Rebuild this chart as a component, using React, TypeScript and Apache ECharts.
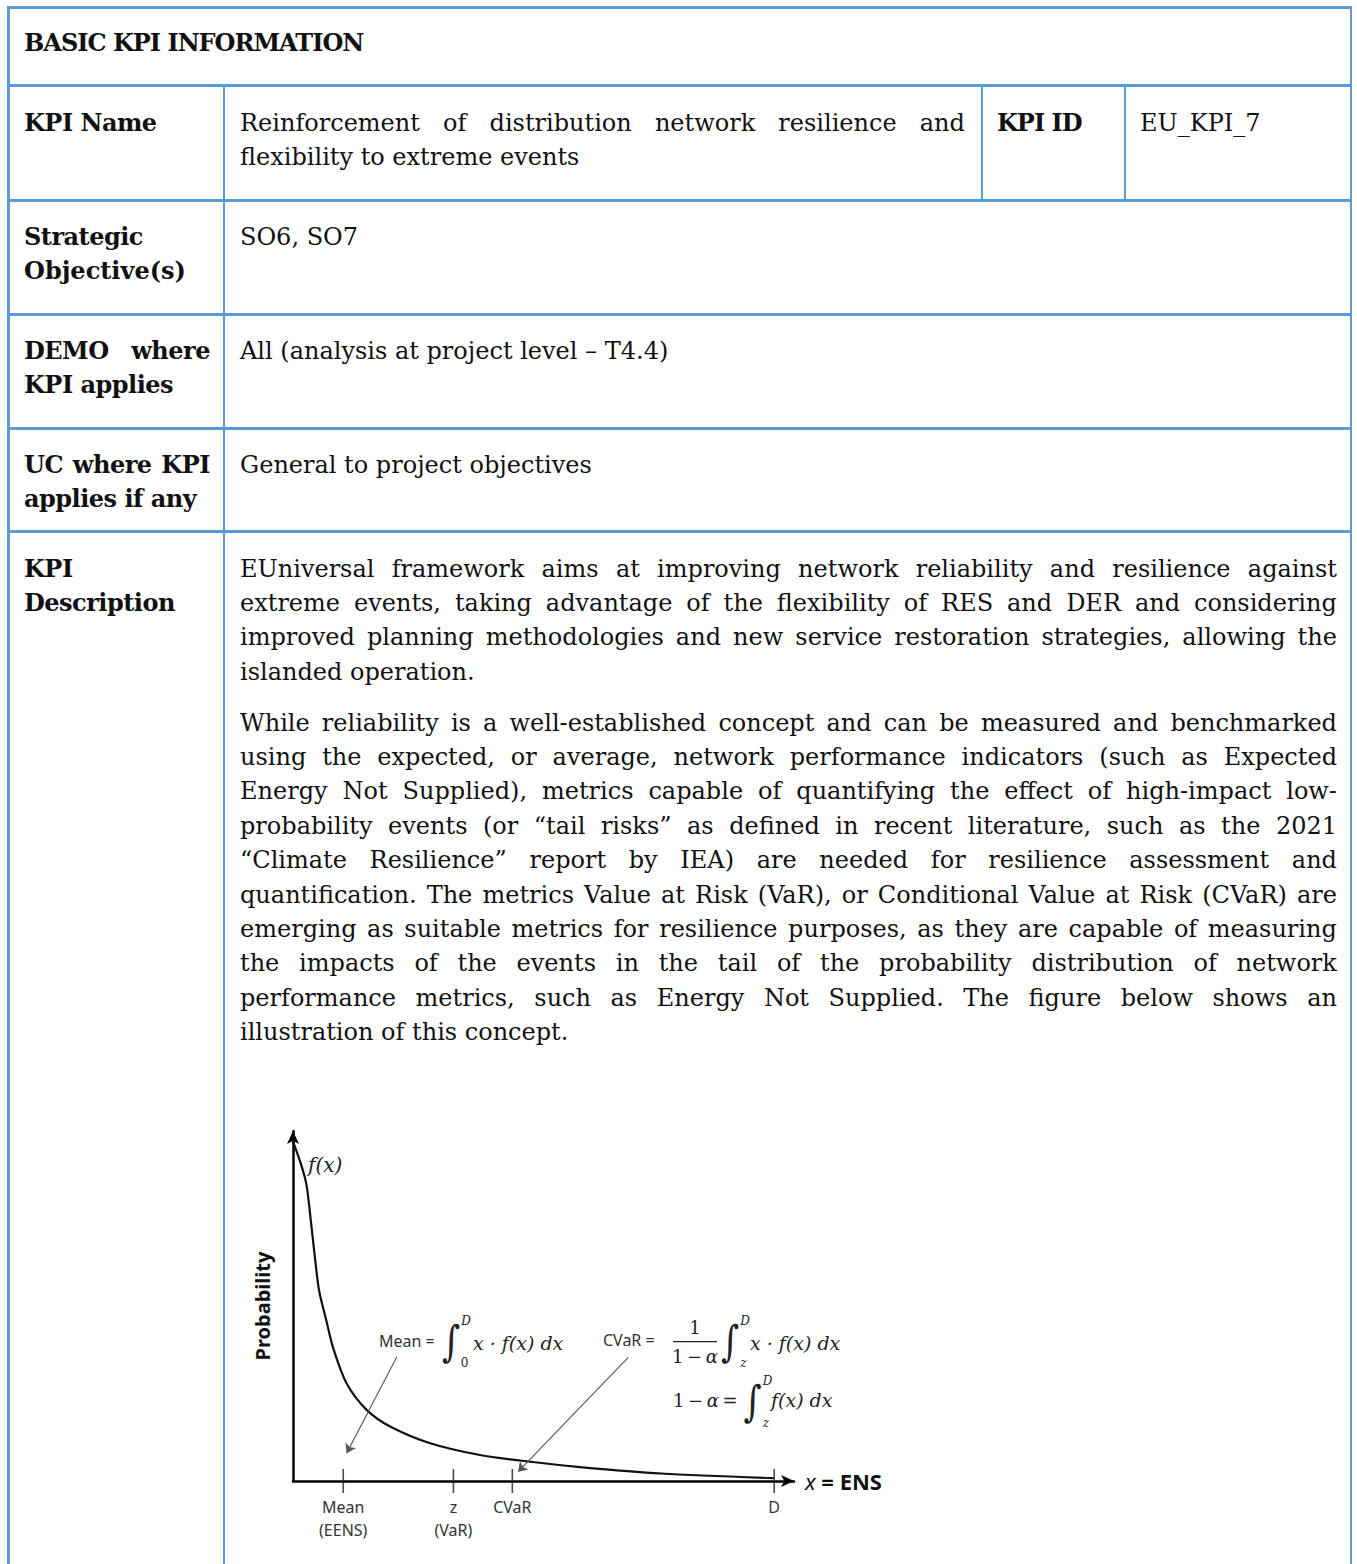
import React, { useEffect, useRef } from "react";
import * as echarts from "echarts";

// ---------- Data ----------
const curveX = [0, 1.7, 2.8, 3.7, 4.6, 5.4, 7.0, 8.35, 11.1, 15.3, 20.1, 28.4, 38.7, 49.1, 59.4, 76.2, 99.5];
const curveY = [95.3, 88.8, 83.1, 73.0, 62.0, 53.5, 44.5, 37.2, 27.4, 19.9, 15.3, 10.6, 7.3, 5.4, 3.9, 2.1, 0.8];
const tickValues = [10.4, 33.2, 45.4, 99.6];
const tickLabels = ["Mean\n(EENS)", "z\n(VaR)", "CVaR", "D"];
const meanArrow = [[21.5, 34.9], [11.1, 7.8]];
const cvarArrow = [[69.4, 34.7], [46.6, 2.6]];

const headerTitle = "BASIC KPI INFORMATION";
const kpiNameLines = ["Reinforcement of distribution network resilience and", "flexibility to extreme events"];
const kpiId = "EU_KPI_7";
const strategic = "SO6, SO7";
const demo = "All (analysis at project level – T4.4)";
const ucText = "General to project objectives";
const para1 = [
  "EUniversal framework aims at improving network reliability and resilience against",
  "extreme events, taking advantage of the flexibility of RES and DER and considering",
  "improved planning methodologies and new service restoration strategies, allowing the",
  "islanded operation.",
];
const para2 = [
  "While reliability is a well-established concept and can be measured and benchmarked",
  "using the expected, or average, network performance indicators (such as Expected",
  "Energy Not Supplied), metrics capable of quantifying the effect of high-impact low-",
  "probability events (or “tail risks” as defined in recent literature, such as the 2021",
  "“Climate Resilience” report by IEA) are needed for resilience assessment and",
  "quantification. The metrics Value at Risk (VaR), or Conditional Value at Risk (CVaR) are",
  "emerging as suitable metrics for resilience purposes, as they are capable of measuring",
  "the impacts of the events in the tail of the probability distribution of network",
  "performance metrics, such as Energy Not Supplied. The figure below shows an",
  "illustration of this concept.",
];

// ---------- Layout constants ----------
const BORDER = "#5B9BD5";
const BW = 2.7;
const SERIF = "'DejaVu Serif', serif";
const FS = 24;
const LH = 34.4;
const BASE_OFF = 25.5;

const hLines = [
  { y: 6, x1: 7, x2: 1352 },
  { y: 84, x1: 7, x2: 1352 },
  { y: 199, x1: 7, x2: 1352 },
  { y: 313, x1: 7, x2: 1352 },
  { y: 427, x1: 7, x2: 1352 },
  { y: 530, x1: 7, x2: 1352 },
];
const vLines = [
  { x: 7, y1: 6, y2: 1564 },
  { x: 1349.5, y1: 6, y2: 1564 },
  { x: 222.5, y1: 84, y2: 1564 },
  { x: 980.5, y1: 84, y2: 201 },
  { x: 1123.5, y1: 84, y2: 201 },
];

const textBase: React.CSSProperties = {
  position: "absolute",
  fontFamily: SERIF,
  fontSize: FS,
  lineHeight: LH + "px",
  whiteSpace: "nowrap",
  color: "#111",
};

function Txt({ x, baseline, text, bold, ls }: { x: number; baseline: number; text: string; bold?: boolean; ls?: number }) {
  return (
    <div
      style={{
        ...textBase,
        left: x,
        top: baseline - BASE_OFF,
        fontWeight: bold ? "bold" : "normal",
        letterSpacing: (ls !== undefined ? ls : bold ? -0.5 : 0) + "px",
      }}
    >
      {text}
    </div>
  );
}

function JLine({ x, baseline, width, text, bold }: { x: number; baseline: number; width: number; text: string; bold?: boolean }) {
  const words = text.split(" ");
  return (
    <div
      style={{
        ...textBase,
        left: x,
        top: baseline - BASE_OFF,
        width,
        display: "flex",
        justifyContent: "space-between",
        fontWeight: bold ? "bold" : "normal",
        letterSpacing: bold ? "-0.5px" : "0px",
      }}
    >
      {words.map((w, i) => (
        <span key={i}>{w}</span>
      ))}
    </div>
  );
}

function Para({ x, baseline, width, lines }: { x: number; baseline: number; width: number; lines: string[] }) {
  return (
    <>
      {lines.map((l, i) =>
        i < lines.length - 1 ? (
          <JLine key={i} x={x} baseline={baseline + i * LH} width={width} text={l} />
        ) : (
          <Txt key={i} x={x} baseline={baseline + i * LH} text={l} />
        )
      )}
    </>
  );
}

function Chart() {
  const ref = useRef<HTMLDivElement>(null);
  useEffect(() => {
    if (!ref.current) return;
    const chart = echarts.init(ref.current, undefined, { renderer: "svg" });
    const mathFont = "'DejaVu Serif', serif";
    const sans = "'Noto Sans', sans-serif";
    const INK = "#222";
    const italic = (x: number, y: number, text: string, size: number, align = "left", upright = false) => ({
      type: "text",
      x,
      y,
      silent: true,
      style: {
        text,
        fontFamily: mathFont,
        fontStyle: upright ? "normal" : "italic",
        fontSize: size,
        lineHeight: size + 1,
        fill: INK,
        align,
        verticalAlign: "middle",
      },
    });
    const sansText = (x: number, y: number, text: string) => ({
      type: "text",
      x,
      y,
      silent: true,
      style: { text, fontFamily: sans, fontSize: 16, fill: "#333", align: "left", verticalAlign: "middle" },
    });
    const integral = (x: number, y: number) => ({
      type: "text",
      x,
      y,
      scaleY: 1.22,
      silent: true,
      style: {
        text: "∫",
        fontFamily: mathFont,
        fontSize: 35,
        lineHeight: 24,
        fill: INK,
        align: "center",
        verticalAlign: "middle",
      },
    });
    const mixed = (x: number, y: number, text: string, align = "left") => ({
      type: "text",
      x,
      y,
      silent: true,
      style: {
        text,
        fontFamily: mathFont,
        fontSize: 18,
        fill: INK,
        align,
        verticalAlign: "middle",
        rich: {
          n: { fontFamily: mathFont, fontSize: 18, fill: INK },
          i: { fontFamily: mathFont, fontSize: 18, fontStyle: "italic", fill: INK },
        },
      },
    });
    const T = "\u2009";
    // integral with its limits: centre (cx, cy)
    const withLimits = (cx: number, cy: number, upper: string, lower: string, lowerUpright = false) => [
      integral(cx, cy),
      italic(cx + 15, cy - 21, upper, 12, "center"),
      italic(cx + 13.5, cy + 21.5, lower, 12, "center", lowerUpright),
    ];

    const option: any = {
      animation: false,
      grid: { left: 63, top: 51, right: 156, bottom: 83, containLabel: false },
      xAxis: {
        type: "value",
        min: 0,
        max: 103.7,
        splitLine: { show: false },
        axisTick: { show: false },
        axisLine: {
          show: true,
          onZero: false,
          symbol: ["none", "arrow"],
          symbolSize: [9, 13],
          lineStyle: { color: "#000", width: 2.5 },
        },
        axisLabel: {
          show: true,
          customValues: tickValues,
          formatter: (v: number) => {
            const i = tickValues.findIndex((t) => Math.abs(t - v) < 1e-6);
            return i >= 0 ? tickLabels[i] : "";
          },
          margin: 14,
          color: "#333",
          fontSize: 16,
          lineHeight: 23,
          fontFamily: sans,
        },
        name: "{i|x} = ENS",
        nameLocation: "end",
        nameGap: 11,
        nameTextStyle: {
          fontFamily: sans,
          fontSize: 22,
          fontWeight: "bold",
          color: "#111",
          rich: { i: { fontFamily: sans, fontSize: 22, fontStyle: "italic", fontWeight: "normal", color: "#111" } },
        },
      },
      yAxis: {
        type: "value",
        min: 0,
        max: 98.3,
        splitLine: { show: false },
        axisTick: { show: false },
        axisLabel: { show: false },
        axisLine: {
          show: true,
          onZero: false,
          symbol: ["none", "arrow"],
          symbolSize: [9, 13],
          lineStyle: { color: "#000", width: 2.5 },
        },
        name: "Probability",
        nameLocation: "middle",
        nameRotate: 90,
        nameGap: 21,
        nameTextStyle: { fontFamily: sans, fontSize: 20, fontWeight: "bold", color: "#111" },
      },
      series: [
        {
          type: "line",
          data: curveX.map((x, i) => [x, curveY[i]]),
          smooth: 0.3,
          showSymbol: false,
          symbol: "none",
          silent: true,
          clip: false,
          lineStyle: { color: "#111", width: 2.2 },
          markLine: {
            silent: true,
            animation: false,
            symbol: ["none", "arrow"],
            symbolSize: 9,
            label: { show: false },
            emphasis: { disabled: true },
            lineStyle: { color: "#555", width: 1.1, type: "solid" },
            data: [
              [{ coord: meanArrow[0] }, { coord: meanArrow[1] }],
              [{ coord: cvarArrow[0] }, { coord: cvarArrow[1] }],
            ],
          },
        },
        {
          type: "scatter",
          data: tickValues.map((v) => [v, 0]),
          symbol: "rect",
          symbolSize: [1.6, 24],
          itemStyle: { color: "#222" },
          silent: true,
          clip: false,
        },
      ],
      graphic: [
        italic(78, 85, "f(x)", 20),
        // Mean formula
        sansText(149, 260.7, "Mean ="),
        ...withLimits(221, 261.5, "D", "0", true),
        italic(243, 262.7, "x · f(x) dx", 19),
        // CVaR formula
        sansText(373, 260, "CVaR ="),
        mixed(465, 247, "{n|1}", "center"),
        {
          type: "line",
          silent: true,
          shape: { x1: 443, y1: 261.7, x2: 487, y2: 261.7 },
          style: { stroke: INK, lineWidth: 1.3 },
        },
        mixed(465, 276, "{n|1" + T + "−" + T + "}{i|α}", "center"),
        ...withLimits(500, 261.5, "D", "z"),
        italic(520, 263, "x · f(x) dx", 19),
        // second line
        mixed(443, 320, "{n|1" + T + "−" + T + "}{i|α}{n|" + T + "=}"),
        ...withLimits(522.5, 321.5, "D", "z"),
        italic(541, 320, "f(x) dx", 19),
      ],
    };
    chart.setOption(option);
    return () => chart.dispose();
  }, []);
  return <div ref={ref} style={{ position: "absolute", left: 230, top: 1080, width: 720, height: 484 }} />;
}

export default function App() {
  return (
    <div
      style={{
        position: "absolute",
        left: 0,
        top: 0,
        width: 1357,
        height: 1564,
        overflow: "hidden",
        background: "#fff",
      }}
    >
      {hLines.map((l, i) => (
        <div key={"h" + i} style={{ position: "absolute", left: l.x1, top: l.y, width: l.x2 - l.x1, height: BW, background: BORDER }} />
      ))}
      {vLines.map((l, i) => (
        <div key={"v" + i} style={{ position: "absolute", left: l.x, top: l.y1, width: BW, height: l.y2 - l.y1, background: BORDER }} />
      ))}

      <Txt x={24} baseline={51} text={headerTitle} bold ls={-1} />

      <Txt x={24} baseline={131} text="KPI Name" bold />
      <Para x={240} baseline={131} width={725} lines={kpiNameLines} />
      <Txt x={997} baseline={131} text="KPI ID" bold ls={-1} />
      <Txt x={1140} baseline={131} text={kpiId} />

      <Txt x={24} baseline={245} text="Strategic" bold />
      <Txt x={24} baseline={245 + LH} text="Objective(s)" bold ls={0} />
      <Txt x={240} baseline={245} text={strategic} />

      <JLine x={24} baseline={359} width={186} text="DEMO where" bold />
      <Txt x={24} baseline={359 + LH} text="KPI applies" bold />
      <Txt x={240} baseline={359} text={demo} />

      <JLine x={24} baseline={473} width={186} text="UC where KPI" bold />
      <Txt x={24} baseline={473 + LH} text="applies if any" bold />
      <Txt x={240} baseline={473} text={ucText} />

      <Txt x={24} baseline={577} text="KPI" bold />
      <Txt x={24} baseline={577 + LH} text="Description" bold />
      <Para x={240} baseline={577} width={1097} lines={para1} />
      <Para x={240} baseline={731} width={1097} lines={para2} />

      <Chart />
    </div>
  );
}
